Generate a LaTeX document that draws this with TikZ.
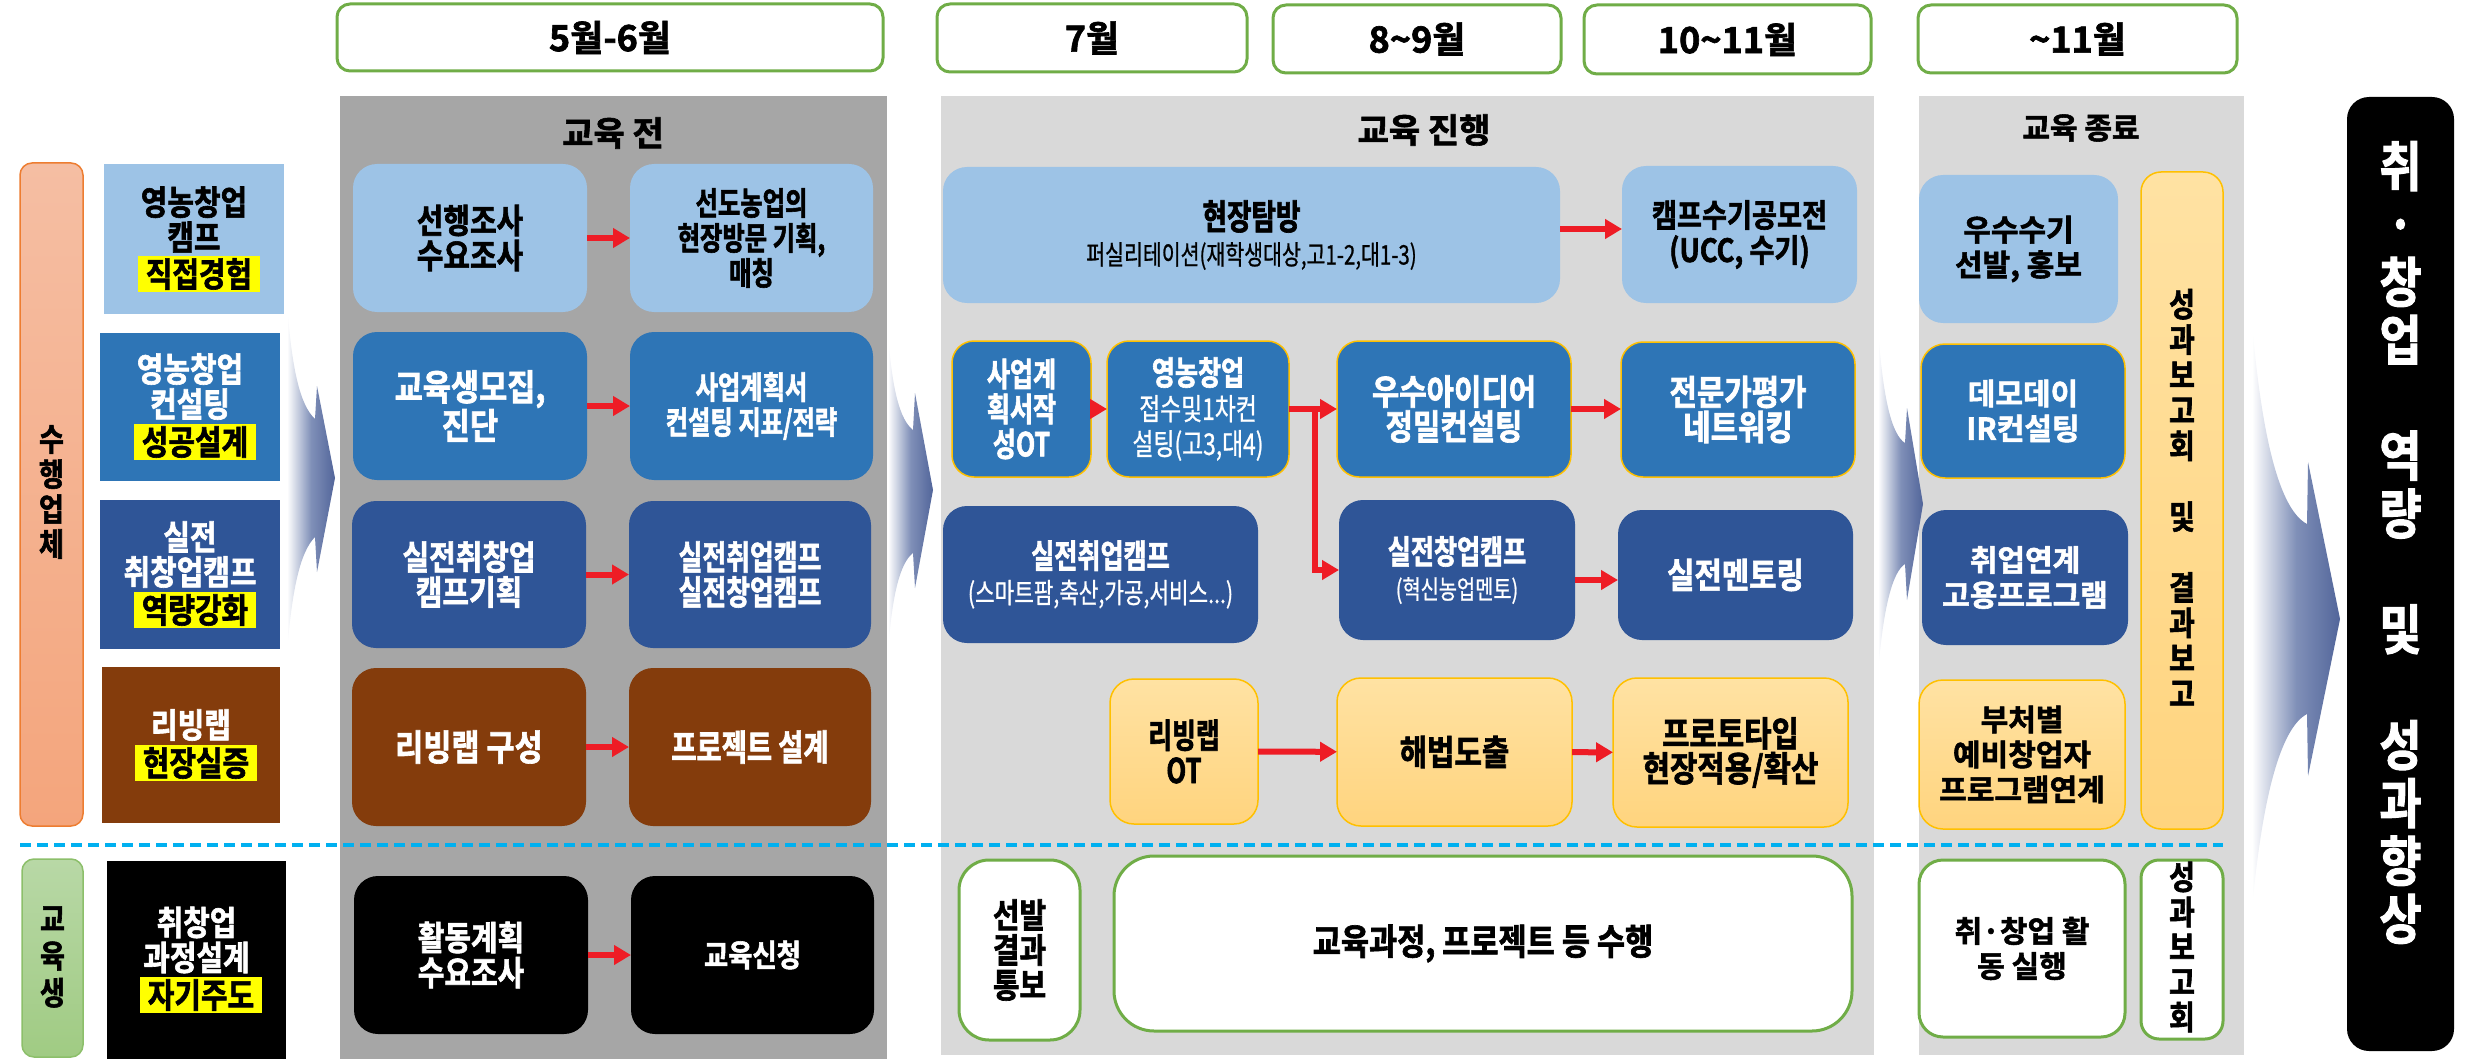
\documentclass[tikz,border=0pt]{standalone}
\usepackage{fontspec}
\newfontfamily\kb{Noto Sans CJK KR Bold}[FakeBold=1.8]
\newfontfamily\kt{Noto Sans CJK KR Bold}[FakeStretch=0.85, FakeBold=1.8]
\newfontfamily\kc{Noto Sans CJK KR Bold}[FakeStretch=0.76, FakeBold=1.8]
\newfontfamily\kr{Noto Sans CJK KR}[FakeStretch=0.76, FakeBold=0.8]
\usetikzlibrary{arrows.meta}
\definecolor{lb}{HTML}{9DC3E6}
\definecolor{bl}{HTML}{2E75B6}
\definecolor{db}{HTML}{2F5597}
\definecolor{brn}{HTML}{843C0C}
\definecolor{yb}{HTML}{FFC000}
\definecolor{ytop}{HTML}{FFE2A3}
\definecolor{ybot}{HTML}{FFD47E}
\definecolor{gr}{HTML}{70AD47}
\definecolor{pga}{HTML}{A6A6A6}
\definecolor{pgb}{HTML}{D9D9D9}
\definecolor{dsh}{HTML}{00B0F0}
\definecolor{rd}{HTML}{EE1C25}
\definecolor{hl}{HTML}{FFFF00}
\definecolor{ort}{HTML}{F5BEA3}
\definecolor{orb}{HTML}{F4A57C}
\definecolor{orl}{HTML}{ED7D31}
\definecolor{grt}{HTML}{B8D8A6}
\definecolor{grb}{HTML}{A0CB83}
\definecolor{grl}{HTML}{8CBF6A}
\definecolor{arm}{HTML}{8090B8}
\definecolor{ard}{HTML}{52659A}
\newcommand\fT[1]{\kt\fontsize{#1}{35}\selectfont}
\newcommand\fC[1]{\kc\fontsize{#1}{35}\selectfont}
\newcommand\fR[1]{\kr\fontsize{#1}{35}\selectfont}
\newcommand\fB[1]{\kb\fontsize{#1}{35}\selectfont}
\tikzset{
  base/.style={font=\fT{35}, align=center, inner sep=0pt, outer sep=0pt},
  rnd/.style={rounded corners=24pt},
  lbx/.style={base, fill=lb, text=black},
  blx/.style={base, fill=bl, text=white},
  dbx/.style={base, fill=db, text=white},
  brx/.style={base, fill=brn, text=white},
  bkx/.style={base, fill=black, text=white},
  ylx/.style={base, top color=ytop, bottom color=ybot, draw=yb, line width=1.5pt, text=black},
  wgx/.style={base, fill=white, draw=gr, line width=3pt, text=black},
  ybord/.style={draw=yb, line width=1.5pt},
  hdr/.style={base, fill=white, draw=gr, line width=3pt, rounded corners=13pt, font=\fB{36}},
  hlt/.style={base, font=\fT{34}, fill=hl, text=black, minimum width=122pt, minimum height=36pt},
  lct/.style={base, font=\fT{34}},
  rarr/.style={draw=rd, line width=6pt, -{Triangle[length=17pt,width=19pt]}},
  panel/.style={inner sep=0pt, outer sep=0pt},
  bigarr/.style={left color=white, right color=ard, middle color=arm},
}
\begin{document}
\begin{tikzpicture}[x=1pt,y=-1pt]
\useasboundingbox (0,0) rectangle (2483,1059);

% panels
\node[panel, fill=pga, minimum width=547pt, minimum height=963pt] (p1) at (613.5,577.5) {};
\node[panel, fill=pgb, minimum width=933pt, minimum height=959pt] (p2) at (1407.5,575.5) {};
\node[panel, fill=pgb, minimum width=325pt, minimum height=959pt] (p3) at (2081.5,575.5) {};
\node[base, font=\fB{34}] (t1) at (613,133) {교육 전};
\node[base, font=\fB{34}] (t2) at (1424,130) {교육 진행};
\node[base, font=\fB{30}] (t3) at (2081,128) {교육 종료};

% big arrows
\shade[bigarr] (287,304) .. controls (292,370) and (300,405) .. (315,419) -- (317,386) -- (335,478) -- (317,572) -- (315,537) .. controls (300,552) and (292,590) .. (287,652) -- cycle;
\shade[bigarr] (888,333) .. controls (892,390) and (900,420) .. (913,430) -- (915,393) -- (933,490) -- (915,588) -- (913,553) .. controls (900,563) and (892,595) .. (888,652) -- cycle;
\shade[bigarr] (1878,329) .. controls (1883,400) and (1892,435) .. (1905,443) -- (1907,408) -- (1923,504) -- (1907,600) -- (1905,564) .. controls (1892,572) and (1883,610) .. (1878,673) -- cycle;
\shade[bigarr] (2252,323) .. controls (2262,440) and (2280,510) .. (2307,524) -- (2308,462) -- (2340,619) -- (2308,776) -- (2307,714) .. controls (2280,728) and (2262,800) .. (2252,909) -- cycle;

% dashed separator
\coordinate (dl) at (20,845);
\coordinate (dr) at (2223,845);
\draw[dsh, line width=4.5pt, dash pattern=on 11pt off 6pt] (dl) -- (dr);

% headers
\node[hdr, minimum width=546pt, minimum height=67pt] (h1) at (610,37.5) {5월-6월};
\node[hdr, minimum width=310pt, minimum height=68pt] (h2) at (1092,38) {7월};
\node[hdr, minimum width=288pt, minimum height=68pt] (h3) at (1417,39) {8\textasciitilde9월};
\node[hdr, minimum width=287pt, minimum height=69pt] (h4) at (1727.5,39.5) {10\textasciitilde11월};
\node[hdr, minimum width=319pt, minimum height=68pt] (h5) at (2077.5,39) {\textasciitilde11월};

% left bars
\node[base, rounded corners=12pt, top color=ort, bottom color=orb, draw=orl, line width=1.5pt, minimum width=63pt, minimum height=663pt] (ob) at (51.5,494.5) {};
\node[base, font=\kt\fontsize{32}{35}\selectfont] (obt) at (51.5,492) {수\\행\\업\\체};
\node[base, rounded corners=12pt, top color=grt, bottom color=grb, draw=grl, line width=1.5pt, minimum width=61pt, minimum height=198pt] (gb) at (52.5,958) {};
\node[base, font=\kt\fontsize{32}{37}\selectfont] (gbt) at (52.5,957) {교\\육\\생};

% left boxes
\node[lbx, minimum width=180pt, minimum height=150pt] (L1) at (194,239) {};
\node[hlt] (L1h) at (199,274) {직접경험};
\node[lct, text=black] (L1t) at (194,219.5) {영농창업\\캠프};
\node[blx, minimum width=180pt, minimum height=148pt] (L2) at (190,407) {};
\node[hlt] (L2h) at (195,442) {성공설계};
\node[lct, text=white] (L2t) at (190,386.5) {영농창업\\컨설팅};
\node[dbx, minimum width=180pt, minimum height=149pt] (L3) at (190,574.5) {};
\node[hlt] (L3h) at (195,610) {역량강화};
\node[lct, text=white] (L3t) at (190,554.5) {실전\\취창업캠프};
\node[brx, minimum width=178pt, minimum height=156pt] (L4) at (191,745) {};
\node[hlt] (L4h) at (196,763) {현장실증};
\node[lct, text=white] (L4t) at (191,725) {리빙랩};
\node[bkx, minimum width=179pt, minimum height=198pt] (L5) at (196.5,960) {};
\node[hlt] (L5h) at (201,995) {자기주도};
\node[lct, text=white] (L5t) at (196.5,940) {취창업\\과정설계};

% before education
\node[lbx, rnd, minimum width=234pt, minimum height=148pt, font=\fT{34}] (a1) at (470,238) {선행조사\\수요조사};
\node[lbx, rnd, minimum width=243pt, minimum height=148pt, font=\fC{32}] (a2) at (751.5,238) {선도농업의\\현장방문 기획,\\매칭};
\node[blx, rnd, minimum width=234pt, minimum height=148pt, font=\fT{36}] (b1) at (470,406) {교육생모집,\\진단};
\node[blx, rnd, minimum width=243pt, minimum height=148pt, font=\fC{32}] (b2) at (751.5,406) {사업계획서\\컨설팅 지표/전략};
\node[dbx, rnd, minimum width=234pt, minimum height=147pt, font=\fT{34}] (c1) at (469,574.5) {실전취창업\\캠프기획};
\node[dbx, rnd, minimum width=242pt, minimum height=147pt, font=\fC{34}] (c2) at (750,574.5) {실전취업캠프\\실전창업캠프};
\node[brx, rnd, minimum width=234pt, minimum height=158pt, font=\fT{36}] (d1) at (469,747) {리빙랩 구성};
\node[brx, rnd, minimum width=242pt, minimum height=158pt, font=\fC{36}] (d2) at (750,747) {프로젝트 설계};
\node[bkx, rnd, minimum width=234pt, minimum height=158pt, font=\fT{34}] (e1) at (471,955) {활동계획\\수요조사};
\node[bkx, rnd, minimum width=243pt, minimum height=158pt, font=\fT{31}] (e2) at (752.5,955) {교육신청};

% in progress
\node[lbx, rnd, minimum width=617pt, minimum height=136pt] (g1) at (1251.5,235) {{\fC{35}현장탐방}\\{\fR{27}퍼실리테이션(재학생대상,고1-2,대1-3)}};
\node[lbx, rnd, minimum width=235pt, minimum height=137pt, font=\fT{32}] (g2) at (1739.5,234.5) {캠프수기공모전\\(UCC, 수기)};
\node[blx, ybord, rounded corners=22pt, minimum width=139pt, minimum height=136pt, font=\fC{33}] (r1) at (1021.5,409) {사업계\\획서작\\성OT};
\node[blx, ybord, rounded corners=22pt, minimum width=182pt, minimum height=136pt] (r2) at (1198,409) {{\fC{33}영농창업}\\{\fR{30}접수및1차컨}\\{\fR{30}설팅(고3,대4)}};
\node[blx, ybord, rounded corners=22pt, minimum width=234pt, minimum height=136pt] (r3) at (1454,409) {우수아이디어\\정밀컨설팅};
\node[blx, ybord, rounded corners=22pt, minimum width=234pt, minimum height=135pt] (r4) at (1738,409.5) {전문가평가\\네트워킹};
\node[dbx, rnd, minimum width=315pt, minimum height=137pt] (s1) at (1100.5,574.5) {{\fC{33}실전취업캠프}\\{\fR{28}(스마트팜,축산,가공,서비스...)}};
\node[dbx, rnd, minimum width=236pt, minimum height=140pt] (s2) at (1457,570) {{\fC{33}실전창업캠프}\\{\fR{26}(혁신농업멘토)}};
\node[dbx, rnd, minimum width=235pt, minimum height=130pt] (s3) at (1735.5,575) {실전멘토링};
\node[ylx, rnd, minimum width=148pt, minimum height=145pt, font=\fC{34}] (u0) at (1184,751.5) {리빙랩\\OT};
\node[ylx, rnd, minimum width=235pt, minimum height=148pt] (t2b) at (1454.5,752) {해법도출};
\node[ylx, rnd, minimum width=235pt, minimum height=149pt, font=\fT{35}] (t3b) at (1730.5,752.5) {프로토타입\\현장적용/확산};
\node[wgx, rounded corners=30pt, minimum width=121pt, minimum height=180pt, font=\fT{34}] (u1) at (1019.5,950) {선발\\결과\\통보};
\node[wgx, rounded corners=40pt, minimum width=738pt, minimum height=175pt, font=\fT{36}] (u2) at (1483,943.5) {교육과정, 프로젝트 등 수행};

% end of education
\node[lbx, rnd, minimum width=199pt, minimum height=148pt, font=\fB{30}] (v1) at (2018.5,249) {우수수기\\선발, 홍보};
\node[blx, ybord, rnd, minimum width=204pt, minimum height=134pt, font=\fB{30}] (v2) at (2023,411) {데모데이\\IR컨설팅};
\node[dbx, rnd, minimum width=206pt, minimum height=135pt, font=\fB{30}] (v3) at (2025,577.5) {취업연계\\고용프로그램};
\node[ylx, rnd, minimum width=206pt, minimum height=149pt, font=\fB{30}] (v4) at (2022,754.5) {부처별\\예비창업자\\프로그램연계};
\node[ylx, rounded corners=20pt, minimum width=82pt, minimum height=657pt] (v5) at (2182,500.5) {};
\node[base, font=\kt\fontsize{33}{35.4}\selectfont] (v5t) at (2182,497.5) {성\\과\\보\\고\\회\\[35.4pt]및\\[35.4pt]결\\과\\보\\고};
\node[wgx, rnd, minimum width=206pt, minimum height=177pt, font=\fB{30}] (w1) at (2022,948.5) {취·창업 활\\동 실행};
\node[wgx, rounded corners=18pt, minimum width=82pt, minimum height=179pt] (w2) at (2182,949.5) {};
\node[base, font=\kt\fontsize{33}{35}\selectfont] (w2t) at (2182,947) {성\\과\\보\\고\\회};

% result box
\node[bkx, rounded corners=22pt, minimum width=107pt, minimum height=954pt] (res) at (2400.5,574) {};
\node[base, text=white, font=\kt\fontsize{54}{57.9}\selectfont] (rest) at (2400.5,542.5) {취\\·\\창\\업\\[57.9pt]역\\량\\[57.9pt]및\\[57.9pt]성\\과\\향\\상};

% red arrows
\draw[rarr] (a1) -- (a2);
\draw[rarr] (b1) -- (b2);
\draw[rarr] (c1) -- (c2);
\draw[rarr] (d1) -- (d2);
\draw[rarr] (e1) -- (e2);
\draw[rarr] ([yshift=6pt]g1.east) -- ([yshift=6pt]g1.east -| g2.west);
\draw[rarr] (r1) -- (r2);
\draw[rarr] (r2) -- (r3);
\coordinate (brp) at (1315,406);
\draw[rarr] (brp) |- (s2.west);
\draw[rarr] (r3.east) -- (r3.east -| r4.west);
\draw[rarr] ([yshift=-10pt]s2.east) -- ([yshift=-10pt]s2.east -| s3.west);
\draw[rarr] (u0) -- (t2b);
\draw[rarr] (t2b) -- (t3b);
\end{tikzpicture}
\end{document}
